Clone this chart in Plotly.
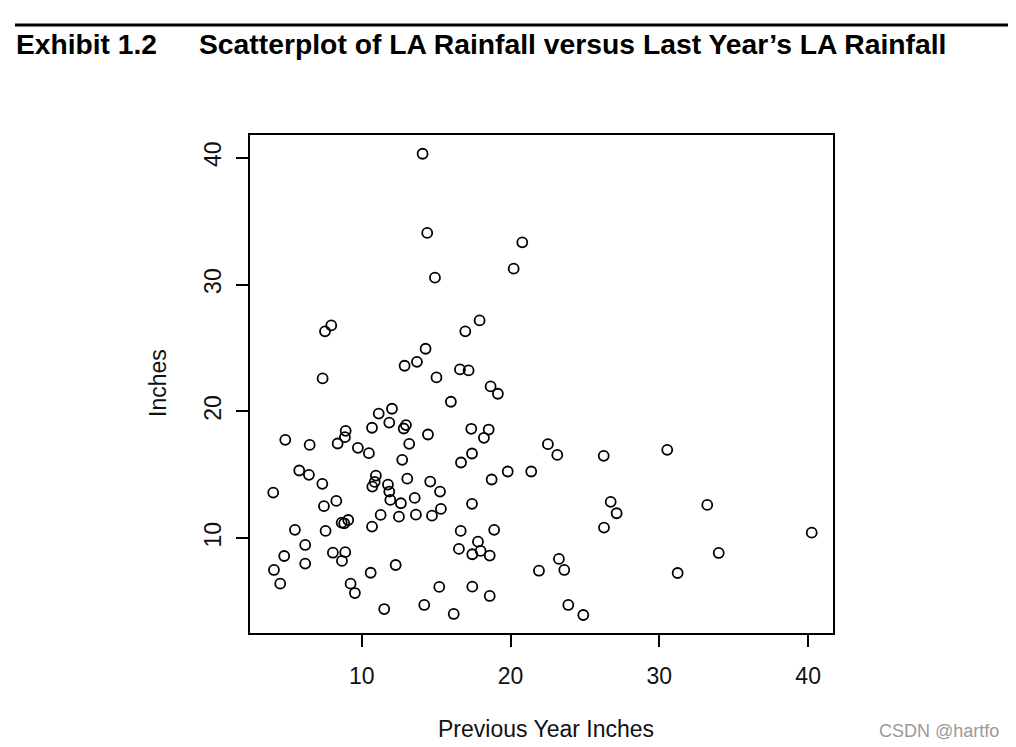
import plotly.graph_objects as go

# Previous year's rainfall (inches) and this year's rainfall (inches)
prev_year = [14.09, 14.40, 20.79, 20.21, 14.92, 7.95, 7.53, 17.92, 16.96, 14.29,
             13.71, 12.88, 7.37, 15.02, 16.60, 17.18, 18.66, 19.15, 15.99,
             12.03, 11.14, 11.85, 12.97, 12.82, 10.69, 8.92, 8.87, 14.45, 4.86,
             6.50, 8.38, 13.19, 9.74, 10.48, 12.72, 5.80, 6.45, 7.35, 4.05,
             10.95, 10.87, 10.71, 11.76, 11.85, 11.92, 13.06, 14.60, 15.26, 12.63,
             13.56, 8.29, 7.46, 15.32,
             17.36, 18.53, 18.21, 17.41, 16.67, 22.51, 23.14, 26.26, 19.81, 21.39,
             18.73, 17.41, 26.73,
             11.27, 12.50, 13.64, 14.72, 8.65, 8.82, 9.09, 10.69, 5.51, 7.57,
             6.20, 8.06, 8.89, 8.67, 4.79, 6.20, 4.10, 4.52, 10.60, 12.28,
             9.25, 9.54, 11.51, 14.20, 15.21, 16.18,
             27.13, 26.28, 16.65, 18.90, 17.81, 16.53, 17.43, 17.99, 18.60, 23.25,
             21.91, 23.61, 17.43, 18.60, 23.88, 24.89,
             30.53, 33.22, 33.99, 31.23, 40.24]

inches = [40.31, 34.07, 33.33, 31.25, 30.54, 26.78, 26.31, 27.17, 26.31, 24.94,
          23.91, 23.60, 22.60, 22.68, 23.31, 23.23, 21.97, 21.39, 20.76,
          20.21, 19.83, 19.12, 18.92, 18.65, 18.71, 18.47, 17.97, 18.18, 17.76,
          17.36, 17.47, 17.44, 17.13, 16.71, 16.18, 15.34, 15.00, 14.29, 13.60,
          14.94, 14.44, 14.07, 14.23, 13.68, 13.02, 14.70, 14.47, 13.68, 12.76,
          13.18, 12.94, 12.53, 12.31,
          18.63, 18.57, 17.92, 16.68, 15.97, 17.42, 16.57, 16.50, 15.26, 15.26,
          14.63, 12.71, 12.87,
          11.84, 11.70, 11.86, 11.78, 11.23, 11.18, 11.44, 10.92, 10.66, 10.58,
          9.47, 8.86, 8.90, 8.21, 8.60, 8.00, 7.50, 6.42, 7.28, 7.89,
          6.42, 5.68, 4.42, 4.74, 6.16, 4.03,
          11.97, 10.84, 10.58, 10.66, 9.73, 9.16, 8.74, 9.00, 8.63, 8.37,
          7.44, 7.50, 6.18, 5.45, 4.74, 3.95,
          16.97, 12.63, 8.84, 7.26, 10.44]

tick_vals = [10, 20, 30, 40]
tick_text = ["10", "20", "30", "40"]

# The page body has an 8px margin; lay out in page pixels and compensate.
OFF = 8
W, H = 1016 - OFF, 747 - OFF
L, R, T, B = 250 - OFF, 833 - OFF, 135 - OFF, 633 - OFF  # plot box in figure pixels


def px(xp):  # page pixel x -> paper x
    return (xp - OFF - L) / (R - L)


def py(yp):  # page pixel y -> paper y
    return (B - (yp - OFF)) / (B - T)


FONT = "Liberation Sans, Arial, Helvetica, sans-serif"

fig = go.Figure()
fig.add_trace(go.Scatter(
    x=prev_year, y=inches, mode="markers",
    marker=dict(symbol="circle-open", size=10, color="black",
                line=dict(width=1.8, color="black")),
    hoverinfo="x+y", showlegend=False,
))

axis_common = dict(
    showgrid=False, zeroline=False, showline=True, mirror=True,
    linecolor="black", linewidth=1.8,
    ticks="outside", ticklen=12, tickwidth=1.5, tickcolor="black",
    tickvals=tick_vals, ticktext=tick_text,
    tickfont=dict(family=FONT, size=23, color="#111111"),
)

fig.update_layout(
    width=W, height=H,
    margin=dict(l=L, r=W - R, t=T, b=H - B, pad=0),
    paper_bgcolor="white", plot_bgcolor="white",
    xaxis=dict(range=[2.49, 41.67], ticklabelstandoff=9, **axis_common),
    yaxis=dict(range=[2.53, 41.79], tickangle=-90, ticklabelstandoff=6, **axis_common),
    font=dict(family=FONT, color="#111111"),
    shapes=[dict(type="line", xref="paper", yref="paper",
                 x0=px(15), x1=px(1008), y0=py(25), y1=py(25),
                 line=dict(color="black", width=3))],
    annotations=[
        dict(text="<b>Exhibit 1.2</b>", xref="paper", yref="paper",
             x=px(14), y=py(44), xanchor="left", yanchor="middle", showarrow=False,
             font=dict(family=FONT, size=28.2, color="black")),
        dict(text="<b>Scatterplot of LA Rainfall versus Last Year’s LA Rainfall</b>",
             xref="paper", yref="paper",
             x=px(197), y=py(44), xanchor="left", yanchor="middle", showarrow=False,
             font=dict(family=FONT, size=28.3, color="black")),
        dict(text="Previous Year Inches", xref="paper", yref="paper",
             x=px(546), y=py(729), xanchor="center", yanchor="middle", showarrow=False,
             font=dict(family=FONT, size=23, color="#111111")),
        dict(text="Inches", xref="paper", yref="paper", textangle=-90,
             x=px(158), y=py(383), xanchor="center", yanchor="middle", showarrow=False,
             font=dict(family=FONT, size=23, color="#111111")),
        dict(text="CSDN @hartfo", xref="paper", yref="paper",
             x=px(1001), y=py(731), xanchor="right", yanchor="middle", showarrow=False,
             font=dict(family=FONT, size=18, color="#9a9a9a")),
    ],
)

fig.write_html("out.html")
